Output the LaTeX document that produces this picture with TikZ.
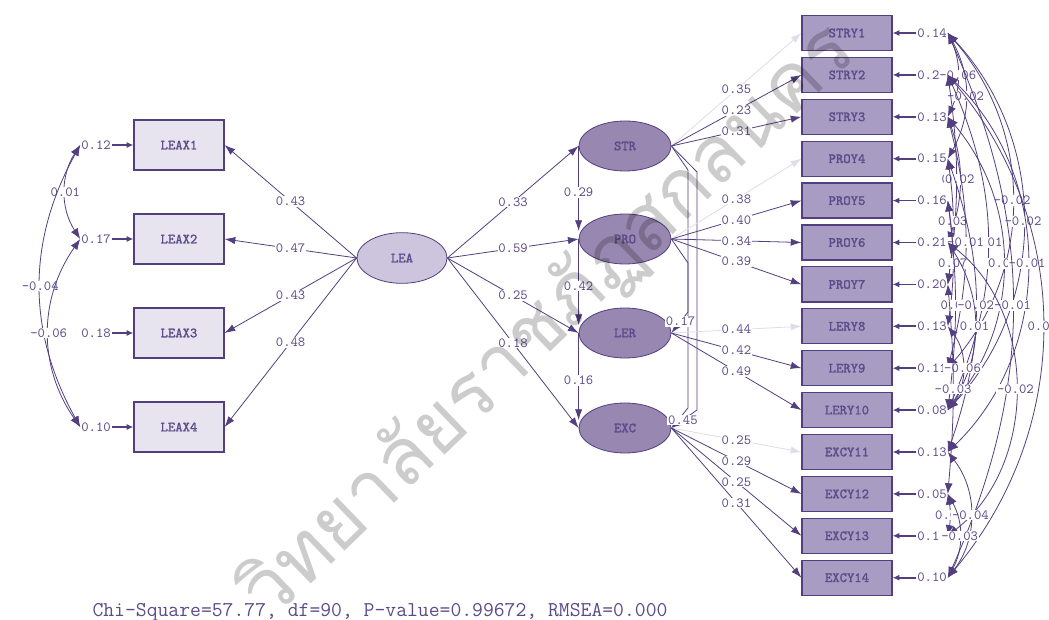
\documentclass[tikz,border=0pt]{standalone}
\usepackage{fontspec}
\newfontfamily\thaifont[Script=Thai]{Loma}
\newfontfamily\boxfont[AutoFakeBold=1.6]{Latin Modern Mono}
\usetikzlibrary{arrows.meta,shapes.geometric}
\definecolor{ln}{HTML}{533F80}
\definecolor{txt}{HTML}{5C4B8A}
\definecolor{lbox}{HTML}{E8E4EF}
\definecolor{rbox}{HTML}{A99CC2}
\definecolor{leac}{HTML}{CDC5DE}
\definecolor{latc}{HTML}{9887B1}
\definecolor{fixc}{HTML}{E0DCE9}
\begin{document}
\begin{tikzpicture}[x=0.75pt,y=-0.75pt,
  obsL/.style={draw=ln, fill=lbox, line width=0.9pt, minimum width=67.5pt, minimum height=37.5pt, inner sep=0pt, text=txt, font=\boxfont\bfseries\fontsize{10.5}{11}\selectfont},
  obsR/.style={obsL, fill=rbox, minimum height=26.25pt},
  latent/.style={ellipse, draw=ln, fill=latc, line width=0.6pt, minimum width=69pt, minimum height=37.5pt, inner sep=0pt, text=txt, font=\boxfont\bfseries\fontsize{10.5}{11}\selectfont},
  lab/.style={fill=white, inner sep=0.6pt, text=txt, font=\ttfamily\fontsize{10.5}{10.5}\selectfont},
  elab/.style={inner sep=0.6pt, text=txt, font=\ttfamily\fontsize{10.5}{10.5}\selectfont},
  pth/.style={draw=ln, line width=0.6pt, -{Latex[length=8pt,width=5.5pt]}},
  fixedpth/.style={pth, draw=fixc},
  errarrow/.style={draw=ln, line width=1.3pt, -{Latex[length=5pt,width=4.5pt]}},
  cov/.style={draw=ln, line width=0.6pt, {Latex[length=8pt,width=6pt]}-{Latex[length=8pt,width=6pt]}}
]
\useasboundingbox (0,0) rectangle (1049,620);
\fill[white] (0,0) rectangle (1049,620);

% left observed variables
\foreach \n/\e [count=\i] in {LEAX1/0.12, LEAX2/0.17, LEAX3/0.18, LEAX4/0.10}{
  \node[obsL] (x\i) at (179,{145+94*(\i-1)}) {\n};
  \node[elab] (d\i) at (96,{145+94*(\i-1)}) {\e};
  \draw[errarrow] (d\i.east) -- (x\i.west);
}
% latent variables
\node[latent, fill=leac, minimum width=67.5pt, minimum height=38pt] (LEA) at (402,258) {LEA};
\node[latent] (STR) at (625,146) {STR};
\node[latent] (PRO) at (625,239) {PRO};
\node[latent] (LER) at (625,333) {LER};
\node[latent] (EXC) at (625,428) {EXC};

% right observed variables
\foreach \n/\e [count=\i] in {STRY1/0.14, STRY2/0.21, STRY3/0.13, PROY4/0.15, PROY5/0.16, PROY6/0.21, PROY7/0.20, LERY8/0.13, LERY9/0.11, LERY10/0.08, EXCY11/0.13, EXCY12/0.05, EXCY13/0.11, EXCY14/0.10}{
  \node[obsR] (y\i) at (847,{33+41.9*(\i-1)}) {\n};
  \node[elab] (e\i) at (932,{33+41.9*(\i-1)}) {\e};
  \draw[errarrow] (e\i.west) -- (y\i.east);
}

% LEA -> indicators
\foreach \i/\l in {1/0.43, 2/0.47, 3/0.43, 4/0.48}{
  \draw[pth] (LEA.west) -- node[lab]{\l} (x\i.east);
}
% LEA -> latent
\draw[pth] (LEA.east) -- node[lab]{0.33} (STR.west);
\draw[pth] (LEA.east) -- node[lab]{0.59} (PRO.west);
\draw[pth] (LEA.east) -- node[lab]{0.25} (LER.west);
\draw[pth] (LEA.east) -- node[lab]{0.18} (EXC.west);
% chain
\draw[pth, shorten >=6pt] (STR.west) -- node[lab]{0.29} (PRO.west);
\draw[pth, shorten >=6pt] (PRO.west) -- node[lab]{0.42} (LER.west);
\draw[pth, shorten >=6pt] (LER.west) -- node[lab]{0.16} (EXC.west);
% bent paths
\coordinate (s1) at (688,170); \coordinate (s2) at (688,312);
\coordinate (t1) at (697,172); \coordinate (t2) at (697,410);
\coordinate (p1) at (688,263); \coordinate (p2) at (688,408);
\draw[pth] (PRO.east) -- (p1) -- (p2) -- (EXC.east);
\draw[pth] (STR.east) -- (s1) -- (s2) -- node[lab, pos=0.45]{0.17} (LER.east);
\draw[pth] (STR.east) -- (t1) -- (t2) -- node[lab, pos=0.55]{0.45} (EXC.east);

% latent -> right indicators
\foreach \i/\l/\s in {1/0.35/fixedpth, 2/0.23/pth, 3/0.31/pth}{
  \draw[\s] (STR.east) -- node[lab]{\l} (y\i.west);}
\foreach \i/\l/\s in {4/0.38/fixedpth, 5/0.40/pth, 6/0.34/pth, 7/0.39/pth}{
  \draw[\s] (PRO.east) -- node[lab]{\l} (y\i.west);}
\foreach \i/\l/\s in {8/0.44/fixedpth, 9/0.42/pth, 10/0.49/pth}{
  \draw[\s] (LER.east) -- node[lab]{\l} (y\i.west);}
\foreach \i/\l/\s in {11/0.25/fixedpth, 12/0.29/pth, 13/0.25/pth, 14/0.31/pth}{
  \draw[\s] (EXC.east) -- node[lab]{\l} (y\i.west);}

% left error covariances
\draw[cov] (d1.west) to[bend right=33] node[lab]{0.01} (d2.west);
\draw[cov] (d1.west) to[bend right=29] node[lab]{-0.04} (d4.west);
\draw[cov] (d2.west) to[bend right=35] node[lab]{-0.06} (d4.west);

% right error covariances
\foreach \a/\b/\t/\ang in {
  1/3/-0.06/24, 1/4/-0.02/29, 2/7/0.01/8, 3/6/0.02/19, 1/9/-0.02/41, 1/10/-0.02/43,
  4/7/0.03/8, 2/10/0.01/24, 3/9/-0.01/14, 5/8/0.07/8, 3/10/0.02/40, 2/11/-0.01/46,
  5/10/0.01/7, 4/11/-0.02/19, 1/14/-0.01/24, 6/10/0.01/33, 2/14/0.01/40,
  8/10/-0.06/37, 7/12/-0.03/5, 6/13/-0.02/52, 12/13/0.00/10, 11/14/-0.04/38, 12/14/-0.03/29}{
  \draw[cov] (e\a.east) to[bend left=\ang] node[lab]{\t} (e\b.east);
}

% fit statistics
\node[text=txt, font=\ttfamily\fontsize{15.8}{16}\selectfont] (fit) at (380,612) {Chi-Square=57.77, df=90, P-value=0.99672, RMSEA=0.000};

% watermark
\node[rotate=44, text=black, opacity=0.2, font=\thaifont\fontsize{59}{59}\selectfont] (wm) at (548,322) {วิทยาลัยราชภัฏสกลนคร};
\end{tikzpicture}
\end{document}
